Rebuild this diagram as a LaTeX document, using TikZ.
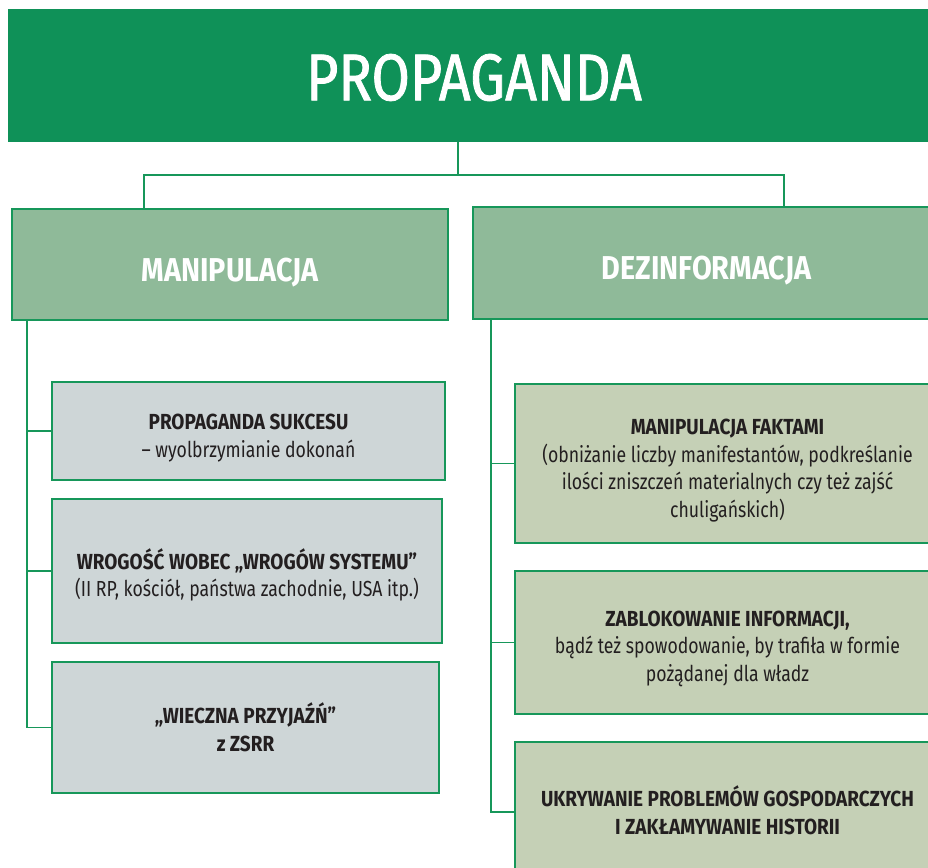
\documentclass[tikz,border=0pt]{standalone}
\usepackage{fontspec}
\setmainfont{Fira Sans}[FakeStretch=0.81,BoldFeatures={FakeStretch=0.87}]
\newfontfamily\titlefont{Fira Sans}[FakeStretch=0.84,FakeBold=1.2]
\usepackage{xcolor}
\usetikzlibrary{positioning,calc}

\definecolor{pdark}{HTML}{0F9158}
\definecolor{pline}{HTML}{17975A}
\definecolor{pmid}{HTML}{8FBA99}
\definecolor{pgray}{HTML}{CED6D7}
\definecolor{polive}{HTML}{C5D0B6}
\definecolor{ptext}{HTML}{231F20}

\tikzset{
  size/.style 2 args={minimum width=#1*0.025cm,minimum height=#2*0.025cm},
  frame/.style={draw=pline,line width=1.4pt,inner sep=0pt,outer sep=0pt},
  titlebox/.style={fill=pdark,inner sep=0pt,outer sep=0pt},
  headbox/.style={frame,fill=pmid},
  leftbox/.style={frame,fill=pgray},
  rightbox/.style={frame,fill=polive},
  titletext/.style={text=white,inner sep=0pt,font=\titlefont\fontsize{47}{50}\selectfont},
  headtext/.style={text=white,inner sep=0pt,font=\fontsize{23.5}{26}\selectfont\bfseries},
  bodytext/.style={text=ptext,inner sep=0pt,align=center,
    font=\fontsize{15.5}{19.6}\selectfont},
  link/.style={draw=pline,line width=1.4pt}
}

\begin{document}
\begin{tikzpicture}[x=0.025cm,y=-0.025cm]
  \useasboundingbox (0,0) rectangle (928,868);
  \clip (0,0) rectangle (928,868);
  % boxes
  \node[titlebox,size={932}{133}] (prop) at (474,75.5) {};
  \node[headbox,size={436}{111}] (manip) at (230,264.5) {};
  \node[headbox,size={467}{112}] (dezinf) at (706.5,263) {};
  \node[leftbox,size={393}{98}] (m1) at (248.5,431) {};
  \node[leftbox,size={390}{144}] (m2) at (247,571) {};
  \node[leftbox,size={387}{131}] (m3) at (245.5,727.5) {};
  \node[rightbox,size={425}{159}] (d1) at (727.5,463.5) {};
  \node[rightbox,size={425}{143}] (d2) at (727.5,642.5) {};
  \node[rightbox,size={425}{140}] (d3) at (727.5,812) {};
  % texts
  \node[titletext] (propT) at ($(prop.center)+(0,2)$) {PROPAGANDA};
  \node[headtext] (manipT) at ($(manip.center)+(0,8)$) {MANIPULACJA};
  \node[headtext] (dezinfT) at ($(dezinf.center)+(0,8)$) {DEZINFORMACJA};
  \node[bodytext] (m1T) at ($(m1.center)+(0,7)$)
    {{\bfseries PROPAGANDA SUKCESU}\\– wyolbrzymianie dokonań};
  \node[bodytext] (m2T) at ($(m2.center)+(0,4)$)
    {{\bfseries WROGOŚĆ WOBEC „WROGÓW SYSTEMU”}\\(II RP, kościół, państwa zachodnie, USA itp.)};
  \node[bodytext] (m3T) at (m3.center)
    {\bfseries „WIECZNA PRZYJAŹŃ”\\\bfseries z ZSRR};
  \node[bodytext] (d1T) at ($(d1.center)+(0,7)$)
    {{\bfseries MANIPULACJA FAKTAMI}\\(obniżanie liczby manifestantów, podkreślanie\\ilości zniszczeń materialnych czy też zajść\\chuligańskich)};
  \node[bodytext] (d2T) at ($(d2.center)+(0,6)$)
    {{\bfseries ZABLOKOWANIE INFORMACJI,}\\bądź też spowodowanie, by trafiła w formie\\pożądanej dla władz};
  \node[bodytext] (d3T) at ($(d3.center)+(0,-2)$)
    {\bfseries UKRYWANIE PROBLEMÓW GOSPODARCZYCH\\\bfseries I ZAKŁAMYWANIE HISTORII};
  % connectors
  \coordinate (hub) at (458,175);
  \coordinate (spineL) at (27,0);
  \coordinate (spineR) at (491,0);
  \draw[link] (prop.south -| hub) -- (hub);
  \draw[link] (manip.north -| 144,0) |- (hub) -| (dezinf.north -| 784,0);
  \draw[link] (manip.south -| spineL) |- (m3.west);
  \draw[link] (spineL |- m1.west) -- (m1.west);
  \draw[link] (spineL |- m2.west) -- (m2.west);
  \draw[link] (dezinf.south -| spineR) |- (d3.west);
  \draw[link] (spineR |- d1.west) -- (d1.west);
  \draw[link] (spineR |- d2.west) -- (d2.west);
\end{tikzpicture}
\end{document}
